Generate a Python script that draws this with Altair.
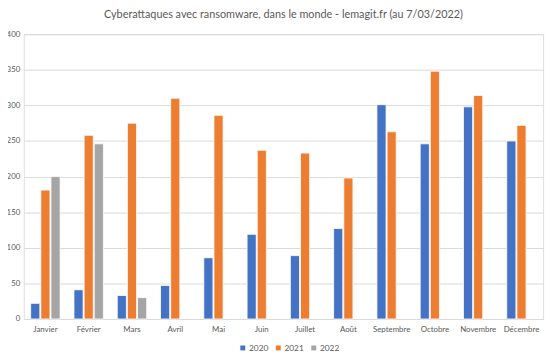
import altair as alt
import pandas as pd

months = ["Janvier", "Février", "Mars", "Avril", "Mai", "Juin", "Juillet", "Août",
          "Septembre", "Octobre", "Novembre", "Décembre"]
years = ["2020", "2021", "2022"]
v2020 = [22, 41, 33, 47, 86, 119, 89, 127, 301, 246, 298, 250]
v2021 = [181, 258, 275, 310, 286, 237, 233, 198, 263, 348, 314, 272]
v2022 = [200, 246, 30, None, None, None, None, None, None, None, None, None]
colors = ["#4472C4", "#ED7D31", "#A5A5A5"]

rows = []
for yr, vals in zip(years, [v2020, v2021, v2022]):
    for m, v in zip(months, vals):
        if v is not None:
            rows.append({"mois": m, "annee": yr, "valeur": v})
df = pd.DataFrame(rows)

chart = alt.Chart(df).mark_bar(stroke="white", strokeWidth=0.8).encode(
    x=alt.X("mois:N", sort=months, title=None,
            scale=alt.Scale(paddingInner=0.32, paddingOuter=0.16),
            axis=alt.Axis(labelAngle=0, labelFontSize=8, labelColor="#595959",
                          ticks=False, domainColor="#d9d9d9", labelPadding=7)),
    xOffset=alt.XOffset("annee:N", scale=alt.Scale(domain=years, paddingInner=0.1)),
    y=alt.Y("valeur:Q", title=None,
            scale=alt.Scale(domain=[0, 400]),
            axis=alt.Axis(values=[0, 50, 100, 150, 200, 250, 300, 350, 400],
                          labelFontSize=8, labelColor="#595959", ticks=False,
                          domain=False, gridColor="#d9d9d9", labelPadding=4)),
    color=alt.Color("annee:N", scale=alt.Scale(domain=years, range=colors),
                    legend=alt.Legend(orient="none", legendX=218, legendY=25 + 289,
                                      direction="horizontal", title=None,
                                      symbolType="square", symbolSize=25,
                                      labelFontSize=8.5, labelColor="#595959",
                                      symbolStrokeWidth=0, columnPadding=5,
                                      labelOffset=2)),
).properties(
    width=527, height=289,
    autosize=alt.AutoSizeParams(type="none"),
    title=alt.TitleParams("Cyberattaques avec ransomware, dans le monde - lemagit.fr (au 7/03/2022)",
                          fontSize=11, fontWeight="normal", color="#595959", offset=10),
    padding={"left": 16, "right": 8, "top": 24, "bottom": 37},
).configure_view(stroke=None).configure(font="Lato")

chart.save("out.html", embed_options={"renderer": "svg", "actions": False})
